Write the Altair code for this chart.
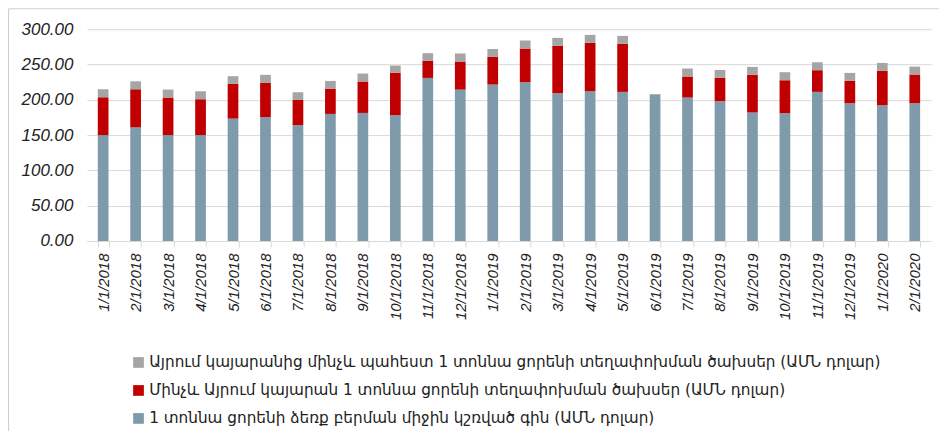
import altair as alt
import pandas as pd

months = ["1/1/2018", "2/1/2018", "3/1/2018", "4/1/2018", "5/1/2018", "6/1/2018",
          "7/1/2018", "8/1/2018", "9/1/2018", "10/1/2018", "11/1/2018", "12/1/2018",
          "1/1/2019", "2/1/2019", "3/1/2019", "4/1/2019", "5/1/2019", "6/1/2019",
          "7/1/2019", "8/1/2019", "9/1/2019", "10/1/2019", "11/1/2019", "12/1/2019",
          "1/1/2020", "2/1/2020"]

price = [150.0, 161.0, 150.0, 150.0, 173.4, 175.3, 164.0, 180.0, 181.4, 178.1, 231.0, 214.5,
         221.6, 224.9, 209.3, 212.1, 211.2, 207.9, 203.2, 198.0, 182.0, 181.0, 211.2, 195.1,
         192.3, 195.1]
to_station = [53.6, 53.9, 53.2, 50.8, 49.1, 48.6, 35.8, 35.4, 44.5, 60.0, 24.1, 39.7,
              39.1, 47.7, 67.1, 68.5, 68.0, 0.0, 29.8, 33.0, 53.3, 46.7, 30.7, 31.6,
              48.6, 40.7]
to_store = [11.3, 11.3, 11.3, 11.3, 10.9, 11.4, 10.9, 11.3, 11.3, 10.4, 10.9, 11.4,
            11.3, 11.4, 11.3, 11.3, 11.3, 0.0, 11.3, 11.3, 11.3, 11.4, 11.3, 11.4,
            11.3, 11.2]

series_names = [
    "Այրում կայարանից մինչև պահեստ 1 տոննա ցորենի տեղափոխման ծախսեր (ԱՄՆ դոլար)",
    "Մինչև Այրում կայարան 1 տոննա ցորենի տեղափոխման ծախսեր (ԱՄՆ դոլար)",
    "1 տոննա ցորենի ձեռք բերման միջին կշռված գին (ԱՄՆ դոլար)",
]
series_colors = ["#A5A5A5", "#C00000", "#7F9BAB"]

rows = []
for i, m in enumerate(months):
    rows.append({"month": m, "series": series_names[2], "value": price[i], "ord": 0})
    rows.append({"month": m, "series": series_names[1], "value": to_station[i], "ord": 1})
    rows.append({"month": m, "series": series_names[0], "value": to_store[i], "ord": 2})
df = pd.DataFrame(rows)

bars = alt.Chart(df).mark_bar().encode(
    x=alt.X("month:N", sort=months, title=None,
            scale=alt.Scale(paddingInner=0.67, paddingOuter=0.335),
            axis=alt.Axis(labelAngle=270, labelFont="Liberation Sans", labelFontStyle="italic",
                          labelFontSize=15, labelColor="#222222", labelPadding=6,
                          tickBand="extent", tickColor="#d9d9d9", tickSize=6,
                          domainColor="#d9d9d9", grid=False)),
    y=alt.Y("value:Q", stack="zero", title=None,
            scale=alt.Scale(domain=[0, 300], nice=False),
            axis=alt.Axis(values=[0, 50, 100, 150, 200, 250, 300], format=".2f",
                          labelFont="Liberation Sans", labelFontStyle="italic", labelFontSize=17,
                          labelColor="#222222", labelPadding=14, domain=False, ticks=False,
                          gridColor="#d9d9d9", gridWidth=1)),
    color=alt.Color("series:N", scale=alt.Scale(domain=series_names, range=series_colors),
                    legend=alt.Legend(title=None, orient="none", legendX=44, legendY=326,
                                      symbolType="square", symbolSize=115,
                                      symbolStrokeWidth=0, labelFont="DejaVu Sans",
                                      labelFontSize=15.3, labelColor="#222222",
                                      labelLimit=1000, rowPadding=12, labelOffset=3)),
    order=alt.Order("ord:Q"),
)

frame = alt.Chart(pd.DataFrame({"k": [0]})).mark_rule(
    color="#d0d0d0", strokeWidth=1.2
).encode(
    x=alt.value(-78.5), x2=alt.value(880), y=alt.value(-20.5)
)
frame_left = alt.Chart(pd.DataFrame({"k": [0]})).mark_rule(
    color="#d0d0d0", strokeWidth=1.2
).encode(
    x=alt.value(-78.5), y=alt.value(-20.5), y2=alt.value(430)
)

chart = alt.layer(frame, frame_left, bars).properties(
    width=845, height=212,
    autosize=alt.AutoSizeParams(type="none"),
    padding={"left": 79, "top": 21, "right": 8, "bottom": 190},
).configure_view(stroke=None)

chart.save("out.html", embed_options={"renderer": "svg", "actions": False})
